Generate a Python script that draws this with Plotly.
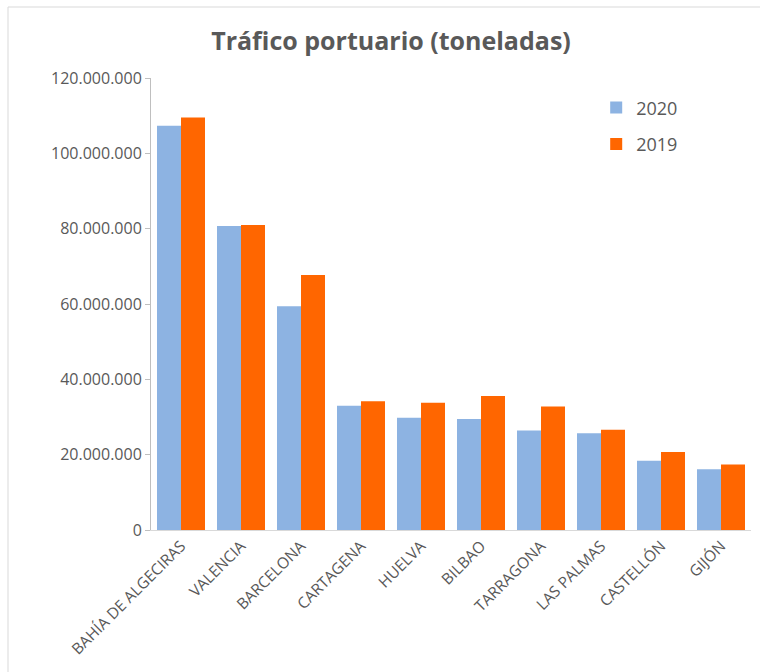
import plotly.graph_objects as go

# Port traffic in tonnes, 2020 vs 2019
ports = ["BAHÍA DE ALGECIRAS", "VALENCIA", "BARCELONA", "CARTAGENA", "HUELVA",
         "BILBAO", "TARRAGONA", "LAS PALMAS", "CASTELLÓN", "GIJÓN"]
traffic_2020 = [107300000, 80700000, 59400000, 33000000, 29800000,
                29500000, 26400000, 25700000, 18400000, 16100000]
traffic_2019 = [109500000, 81000000, 67700000, 34200000, 33800000,
                35600000, 32800000, 26600000, 20700000, 17400000]
y_ticks = [0, 20000000, 40000000, 60000000, 80000000, 100000000, 120000000]

TEXT = "#595959"
FONT = "Open Sans, Noto Sans, sans-serif"

fig = go.Figure()
fig.add_trace(go.Bar(x=ports, y=traffic_2020, name="2020", legendgroup="a",
                     marker=dict(color="#8db3e2", line=dict(width=0))))
fig.add_trace(go.Bar(x=ports, y=traffic_2019, name="2019", legendgroup="b",
                     marker=dict(color="#ff6600", line=dict(width=0))))

fig.update_layout(
    width=760, height=672,
    margin=dict(l=151, r=9, t=78, b=142),
    paper_bgcolor="white", plot_bgcolor="white",
    separators=",.",
    barmode="group", bargap=0.2, bargroupgap=0,
    font=dict(family=FONT, color=TEXT),
    title=dict(text="<b>Tráfico portuario (toneladas)</b>",
               x=391 / 760, xanchor="center", xref="container",
               y=1 - 41 / 672, yanchor="middle",
               font=dict(size=25, color=TEXT, family=FONT)),
    showlegend=True,
    legend=dict(x=0.742, y=0.975, xanchor="left", yanchor="top",
                font=dict(size=18, color=TEXT, family=FONT),
                bgcolor="rgba(0,0,0,0)", tracegroupgap=10,
                itemwidth=30),
    xaxis=dict(showline=True, linecolor="#d9d9d9", linewidth=1,
               ticks="", tickangle=-45, showgrid=False,
               tickfont=dict(size=15.5, color=TEXT, family=FONT)),
    yaxis=dict(range=[0, 120000000], tickvals=y_ticks, tickformat=",.0f",
               showline=True, linecolor="#bfbfbf", linewidth=1,
               ticks="outside", ticklen=5, tickcolor="#bfbfbf",
               showgrid=False, zeroline=False,
               tickfont=dict(size=16, color=TEXT, family=FONT)),
)

# Light frame around the chart area
fig.add_shape(type="rect", xref="paper", yref="paper",
              x0=(8 - 151) / 600, x1=1.05, y0=-0.35, y1=(530 - 7) / 452,
              line=dict(color="#d9d9d9", width=1), fillcolor="rgba(0,0,0,0)",
              layer="below")

fig.write_html("out.html")
